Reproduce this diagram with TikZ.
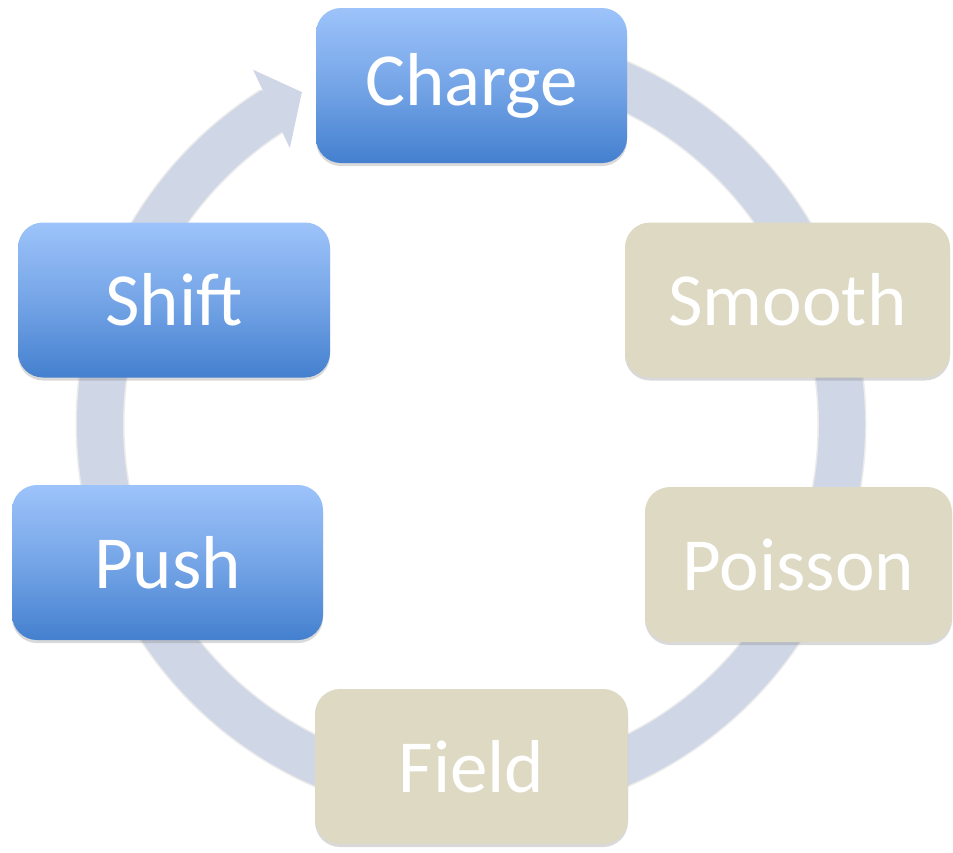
\documentclass[tikz,border=0pt]{standalone}
\usepackage{fontspec}
\setmainfont{Carlito}
\usetikzlibrary{shadows}

\definecolor{blueTop}{RGB}{157,195,250}
\definecolor{blueBottom}{RGB}{68,128,207}
\definecolor{tanFill}{RGB}{221,217,195}
\definecolor{ringColor}{RGB}{207,214,230}

\begin{document}
\begin{tikzpicture}[x = 0.5pt, y = -0.5pt]
	\tikzstyle{boxStyle} = [rounded corners = 12.5pt, inner sep = 0pt, minimum height = 77.5pt, text = white, font = \fontsize{37.5}{40}\selectfont, drop shadow = {shadow xshift = 0pt, shadow yshift = -1.5pt, opacity = 0.3}]
	\tikzstyle{blueStyle} = [boxStyle, top color = blueTop, bottom color = blueBottom, middle color = blueTop!55!blueBottom]
	\tikzstyle{tanStyle} = [boxStyle, fill = tanFill]
	\tikzstyle{ringStyle} = [line width = 23pt, draw = ringColor]
	\useasboundingbox (0, 0) rectangle (953, 852);
	% the cycle ring with its head
	\draw[ringStyle, draw = black, opacity = 0.08, line width = 24.5pt] (471, 53) arc[start angle = -90, end angle = 237.8, radius = 371];
	\draw[ringStyle] (471, 53) arc[start angle = -90, end angle = 238, radius = 371];
	\fill[ringColor, shift = {(471, 424)}] (238.4:416) -- (243:372.5) -- (236.7:330) -- cycle;
	% steps
	\node[blueStyle, minimum width = 155.5pt] (charge) at (471.5, 85.5) {Charge};
	\node[tanStyle, minimum width = 162.5pt] (smooth) at (787.5, 300) {Smooth};
	\node[tanStyle, minimum width = 153.5pt] (poisson) at (798.5, 564.5) {Poisson};
	\node[tanStyle, minimum width = 156.5pt] (field) at (471.5, 766.5) {Field};
	\node[blueStyle, minimum width = 155.5pt] (push) at (167.5, 562.5) {Push};
	\node[blueStyle, minimum width = 156pt] (shift) at (174, 300) {Shift};
\end{tikzpicture}
\end{document}
